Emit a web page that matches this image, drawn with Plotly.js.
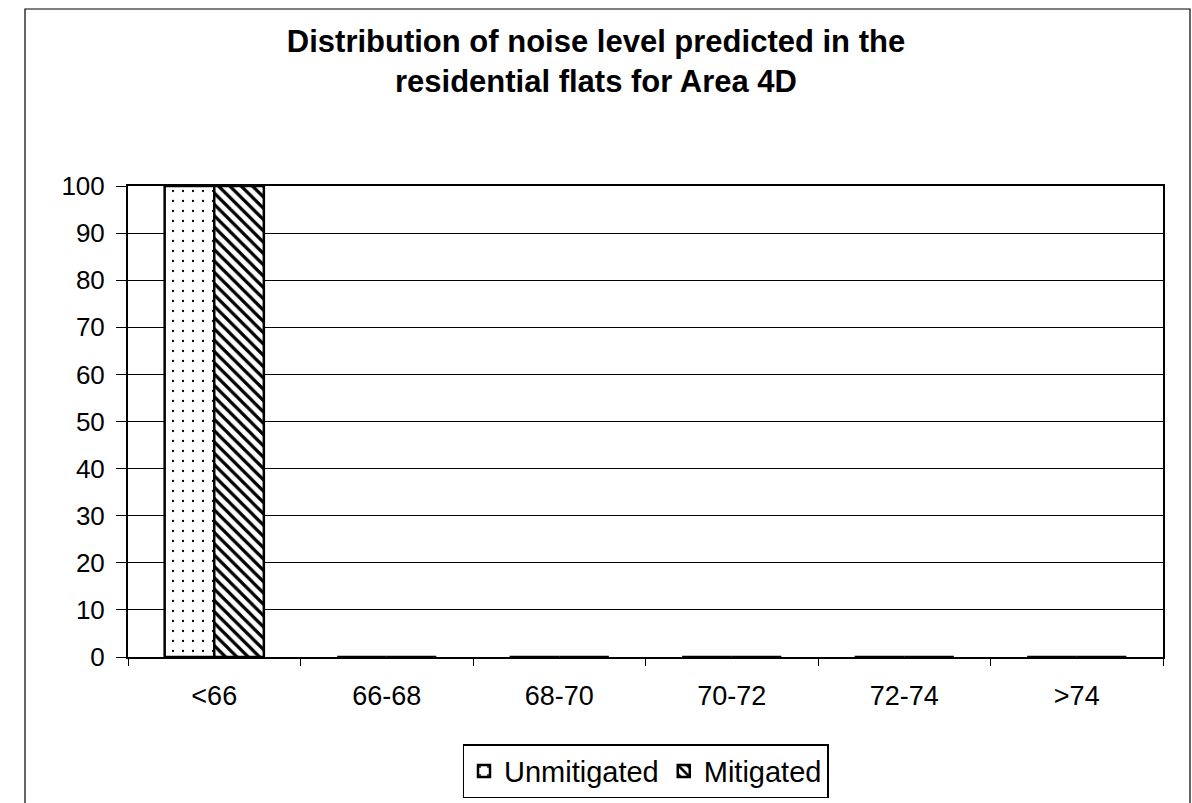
<!DOCTYPE html>
<html><head><meta charset="utf-8">
<script src="https://cdn.plot.ly/plotly-3.0.1.min.js"></script>
<style>body{margin:0;background:#fff}#c{width:1192px;height:803px}</style>
</head><body><div id="c"></div>
<script>
const categories = ["<66","66-68","68-70","70-72","72-74",">74"];
const unmitigated = [100,0,0,0,0,0];
const mitigated = [100,0,0,0,0,0];
const yTicks = [0,10,20,30,40,50,60,70,80,90,100];

const traces = [
  {type:'bar', name:'Unmitigated', x:categories, y:unmitigated,
   marker:{color:'#ffffff', line:{color:'#000', width:2.5},
     pattern:{shape:'.', fgcolor:'#000', bgcolor:'#fff', size:10, solidity:0.04}}},
  {type:'bar', name:'Mitigated', x:categories, y:mitigated,
   marker:{color:'#ffffff', line:{color:'#000', width:2.5},
     pattern:{shape:'\\', fgcolor:'#000', bgcolor:'#fff', size:8, solidity:0.4}}}
];
const layout = {
  width:1192, height:803,
  paper_bgcolor:'#fff', plot_bgcolor:'#fff',
  margin:{l:128, r:29, t:186, b:146, autoexpand:false},
  font:{family:'"Liberation Sans", Arial, sans-serif', color:'#000', size:26},
  title:{text:'<b>Distribution of noise level predicted in the<br>residential flats for Area 4D</b>',
    font:{size:31, family:'"Liberation Sans", Arial, sans-serif'},
    x:0.5, xref:'container', xanchor:'center', y:1-52/803, yref:'container', yanchor:'top'},
  barmode:'group', bargap:0.425, bargroupgap:0,
  showlegend:true,
  legend:{orientation:'h', x:0.5, xanchor:'center', y:-0.185, yanchor:'top',
    bordercolor:'#000', borderwidth:1.5, font:{size:29}, itemwidth:30,
    traceorder:'normal'},
  xaxis:{type:'category', showline:true, linecolor:'#000', linewidth:2, mirror:true,
    ticks:'outside', tickson:'boundaries', ticklen:7, tickcolor:'#000',
    ticklabelstandoff:14,
    showgrid:false, tickfont:{size:27}, fixedrange:true},
  yaxis:{range:[0,100], tickvals:yTicks, ticktext:yTicks.map(String),
    showline:true, linecolor:'#000', linewidth:2, mirror:true,
    ticks:'outside', ticklen:10, tickcolor:'#000', ticklabelstandoff:6,
    showgrid:true, gridcolor:'#000', gridwidth:1, zeroline:false,
    tickfont:{size:26}},
  shapes:[{type:'rect', xref:'paper', yref:'paper',
    x0:(25-128)/1035, x1:(1190-128)/1035, y0:(657-815)/471, y1:(657-9)/471,
    line:{color:'#000', width:1.2}, fillcolor:'rgba(0,0,0,0)', layer:'below'}]
};
Plotly.newPlot('c', traces, layout, {staticPlot:true});
</script></body></html>
